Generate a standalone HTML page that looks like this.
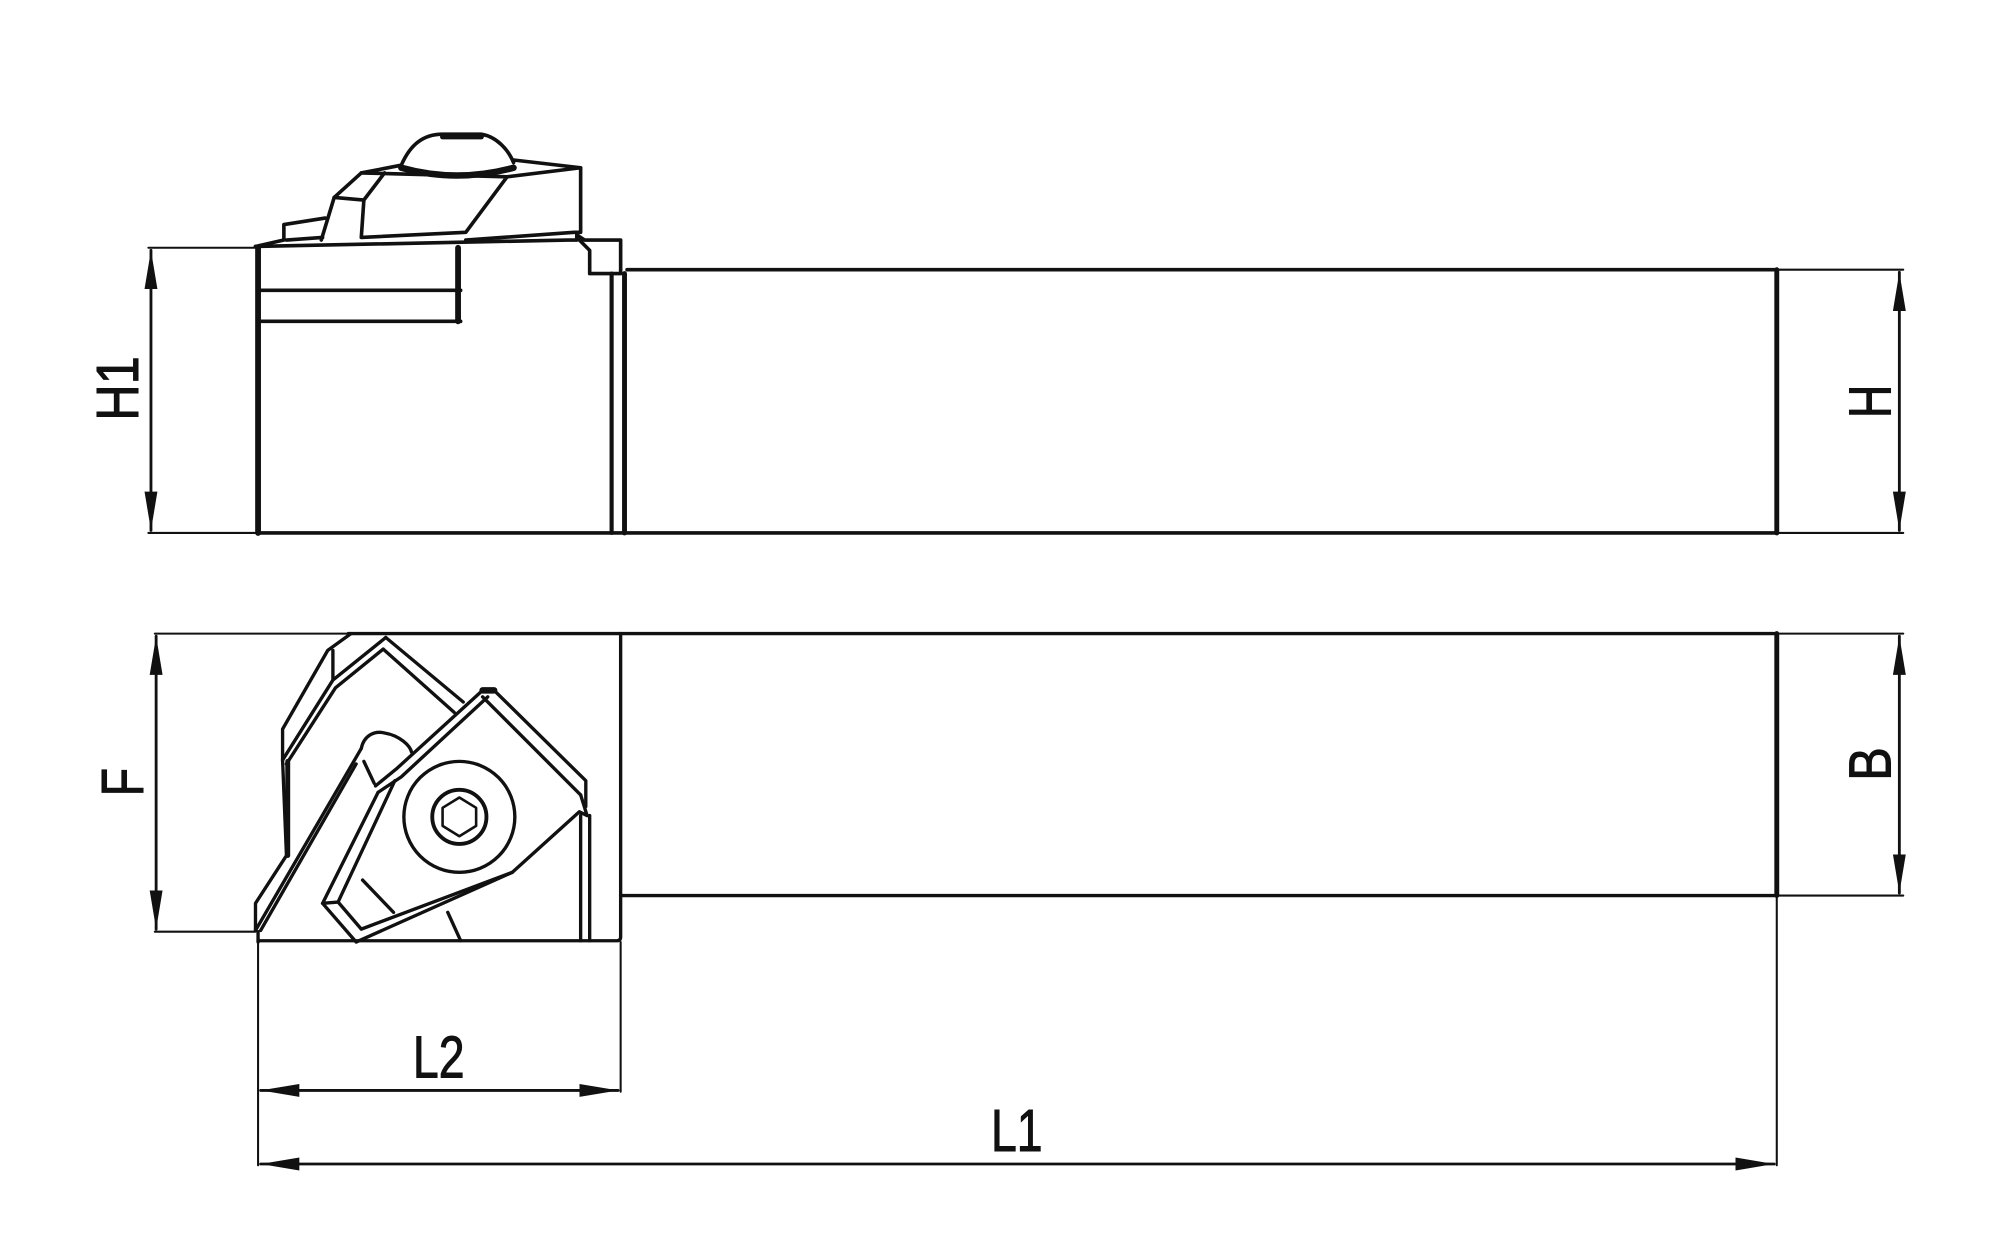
<!DOCTYPE html>
<html><head><meta charset="utf-8"><style>html,body{margin:0;padding:0;background:#fff}svg{display:block}</style></head>
<body>
<svg width="2000" height="1244" viewBox="0 0 1550 964" preserveAspectRatio="none" xmlns="http://www.w3.org/2000/svg">
<defs>
<marker id="a" viewBox="0 0 30 10" refX="30" refY="5" markerWidth="30" markerHeight="10" markerUnits="userSpaceOnUse" orient="auto-start-reverse"><path d="M0,0 L30,5 L0,10 Z" fill="#111"/></marker>
</defs>
<g fill="none" stroke="#111" stroke-linejoin="round" stroke-linecap="round">
<!-- TOP VIEW -->
<g stroke-width="1.6">
<line x1="115" y1="192" x2="198" y2="192"/>
<line x1="115" y1="413" x2="198" y2="413"/>
<line x1="1377" y1="209" x2="1475" y2="209"/>
<line x1="1377" y1="413" x2="1475" y2="413"/>
</g>
<line x1="117" y1="194" x2="117" y2="411" stroke-width="2.2" marker-start="url(#a)" marker-end="url(#a)"/>
<line x1="1472" y1="211" x2="1472" y2="411" stroke-width="2.2" marker-start="url(#a)" marker-end="url(#a)"/>
<g stroke-width="2.8">
<line x1="200" y1="192" x2="200" y2="413" stroke-width="4.5"/>
<line x1="200" y1="413" x2="1377" y2="413"/>
<line x1="1377" y1="209" x2="1377" y2="413" stroke-width="3.8"/>
<line x1="486" y1="209" x2="1377" y2="209"/>
<line x1="474" y1="212" x2="474" y2="413" stroke-width="3.2"/>
<line x1="484" y1="212" x2="484" y2="413" stroke-width="3.8"/>
<path d="M198,191 L440,186 L447,186 L447,182 L453,186 L481,186 L481,212 L457,212 L457,194 L449,186"/>
<line x1="200" y1="225" x2="357" y2="225"/>
<line x1="200" y1="249" x2="357" y2="249"/>
<line x1="355" y1="192" x2="355" y2="249" stroke-width="4.5"/>
<!-- clamp -->
<path d="M198,191 L220,186 L220,174 L252,169"/>
<path d="M222,186 L250,184"/>
<path d="M249,186 L259,153 L280,134 L311,128"/>
<path d="M259,153 L282,155 L280,184 L361,180 L393,137 L280,134"/>
<path d="M282,155 L298,134"/>
<path d="M393,137 L450,130 L398,124"/>
<path d="M450,130 L450,180 L445,180 L361,186"/>
<path d="M311,128 C318,112 328,104 343,104 L373,104 C385,106 394,116 398,126"/>
<path d="M311,130 Q354,142 398,130" stroke-width="5"/>
<line x1="343" y1="106" x2="373" y2="106" stroke-width="4"/>
</g>
<!-- BOTTOM VIEW -->
<g stroke-width="1.6">
<line x1="120" y1="491" x2="270" y2="491"/>
<line x1="120" y1="722" x2="198" y2="722"/>
<line x1="1377" y1="491" x2="1475" y2="491"/>
<line x1="1377" y1="694" x2="1475" y2="694"/>
<line x1="200" y1="730" x2="200" y2="903"/>
<line x1="481" y1="730" x2="481" y2="846"/>
<line x1="1377" y1="694" x2="1377" y2="903"/>
</g>
<line x1="121" y1="493" x2="121" y2="720" stroke-width="2.2" marker-start="url(#a)" marker-end="url(#a)"/>
<line x1="1472" y1="493" x2="1472" y2="692" stroke-width="2.2" marker-start="url(#a)" marker-end="url(#a)"/>
<line x1="202" y1="845" x2="479" y2="845" stroke-width="2.2" marker-start="url(#a)" marker-end="url(#a)"/>
<line x1="202" y1="902" x2="1375" y2="902" stroke-width="2.2" marker-start="url(#a)" marker-end="url(#a)"/>
<g stroke-width="2.6">
<line x1="270" y1="491" x2="1377" y2="491"/>
<line x1="1377" y1="491" x2="1377" y2="694" stroke-width="3.8"/>
<line x1="481" y1="694" x2="1377" y2="694"/>
<path d="M481,491 L481,694 L481,726 Q481,729 478,729 L200,729"/>
<line x1="200" y1="722" x2="200" y2="730"/>
<!-- holder -->
<path d="M272,491 L254,504 L219,565 L219,589 L222,663 L198,700 L198,721"/>
<path d="M258,504 L258,526"/>
<path d="M299,494 L258,527 L219,589" />
<path d="M297,503 L260,533 L222,592"/>
<path d="M299,494 L359,544"/>
<path d="M297,503 L352,552"/>
<line x1="223" y1="590" x2="223" y2="663" stroke-width="3.8"/>
<path d="M198,721 L280,580"/>
<path d="M202,721 L276,592"/>
<path d="M280,580 C282,570 290,566 298,568 C310,570 318,578 319,583"/>
<path d="M282,590 L290,607"/>
<!-- insert -->
<path d="M374,535 L383,535 L454,605 L454,625"/>
<path d="M374,540 L450,616"/>
<path d="M374,535 L307,596 L291,609"/>
<path d="M378,540 L311,602 L293,614"/>
<path d="M293,614 L250,700 L262,699 L306,605"/>
<path d="M250,700 L276,730 L397,676"/>
<path d="M262,699 L280,720 L397,676"/>
<path d="M281,682 L305,707"/>
<path d="M397,676 L449,629 L455,632 L450,616"/>
<line x1="450" y1="632" x2="450" y2="729"/>
<line x1="457" y1="632" x2="457" y2="729"/>
<path d="M347,707 L357,729"/>
<circle cx="356" cy="633" r="43"/>
<circle cx="356" cy="633" r="21" stroke-width="3"/>
<path d="M356,618 L369,626 L369,640 L356,648 L343,640 L343,626 Z" stroke-width="2"/>
<line x1="374" y1="535" x2="383" y2="535" stroke-width="5"/>
</g>
</g>
<g fill="#111" stroke="#111" stroke-width="0.8" font-family="'Liberation Sans Narrow','Liberation Sans',sans-serif" font-size="46">
<text x="0" y="0" transform="translate(107,326) rotate(-90)" textLength="50" lengthAdjust="spacingAndGlyphs">H1</text>
<text x="0" y="0" transform="translate(111,617) rotate(-90)" textLength="22" lengthAdjust="spacingAndGlyphs">F</text>
<text x="0" y="0" transform="translate(1465,324) rotate(-90)" textLength="26" lengthAdjust="spacingAndGlyphs">H</text>
<text x="0" y="0" transform="translate(1465,605) rotate(-90)" textLength="26" lengthAdjust="spacingAndGlyphs">B</text>
<text x="320" y="835" textLength="40" lengthAdjust="spacingAndGlyphs">L2</text>
<text x="768" y="892" textLength="40" lengthAdjust="spacingAndGlyphs">L1</text>
</g>
</svg>
</body></html>
